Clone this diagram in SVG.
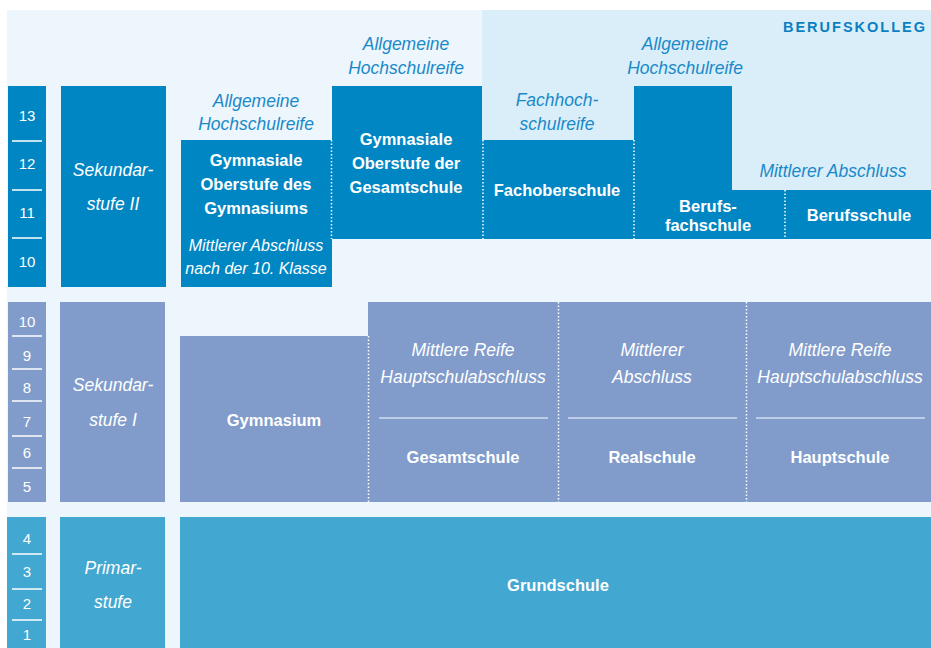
<svg xmlns="http://www.w3.org/2000/svg" width="931" height="648" viewBox="0 0 931 648">
<style>
.t{font-family:"Liberation Sans",Arial,sans-serif;text-anchor:middle}
.b{font-weight:bold;font-size:16.5px;fill:#fff}
.iw{font-style:italic;font-size:17.5px;fill:#fff}
.ib{font-style:italic;font-size:17.5px;fill:#1a89c8}
.n{font-size:15px;fill:#fff}
.s2{fill:#0086c3}
.s1{fill:#819ccb}
.p{fill:#42a8d1}
.dot{stroke:#fff;stroke-width:1.5;stroke-dasharray:1.5 2;fill:none}
.gl{stroke:#fff;stroke-width:1.5}
.sl{stroke:#d3def0;stroke-width:1.5}
</style>
<rect x="7" y="10" width="924" height="638" fill="#eef6fd"/>
<rect x="482" y="10" width="449" height="229" fill="#d9eef9"/>
<text class="t" x="927" y="32" style="text-anchor:end;font-weight:bold;font-size:14.5px;letter-spacing:2px;fill:#0a7fc1">BERUFSKOLLEG</text>

<g id="grades-sek2">
<rect class="s2" x="8" y="86" width="38" height="201"/>
<line class="gl" x1="12" y1="141" x2="42" y2="141"/>
<line class="gl" x1="12" y1="190" x2="42" y2="190"/>
<line class="gl" x1="12" y1="238" x2="42" y2="238"/>
<text class="t n" x="27" y="121">13</text>
<text class="t n" x="27" y="169">12</text>
<text class="t n" x="27" y="218">11</text>
<text class="t n" x="27" y="267">10</text>
</g>
<g id="sek2">
<rect class="s2" x="61" y="86" width="105" height="201"/>
<text class="t iw" x="113" y="176">Sekundar-</text>
<text class="t iw" x="113" y="210">stufe II</text>
</g>
<g id="gym-oberstufe">
<text class="t ib" x="256" y="107">Allgemeine</text>
<text class="t ib" x="256" y="130">Hochschulreife</text>
<rect class="s2" x="181" y="140" width="151" height="147"/>
<text class="t b" x="256" y="166">Gymnasiale</text>
<text class="t b" x="256" y="190">Oberstufe des</text>
<text class="t b" x="256" y="214">Gymnasiums</text>
<text class="t iw" x="256" y="251" style="font-size:16px">Mittlerer Abschluss</text>
<text class="t iw" x="256" y="274" style="font-size:16px">nach der 10. Klasse</text>
</g>
<g id="gesamt-oberstufe">
<text class="t ib" x="406" y="50">Allgemeine</text>
<text class="t ib" x="406" y="74">Hochschulreife</text>
<rect class="s2" x="332" y="86" width="150" height="153"/>
<text class="t b" x="406" y="145">Gymnasiale</text>
<text class="t b" x="406" y="169">Oberstufe der</text>
<text class="t b" x="406" y="193">Gesamtschule</text>
</g>
<g id="fachoberschule">
<text class="t ib" x="557" y="106">Fachhoch-</text>
<text class="t ib" x="557" y="130">schulreife</text>
<rect class="s2" x="482" y="140" width="152" height="99"/>
<text class="t b" x="557" y="196">Fachoberschule</text>
</g>
<g id="berufsfachschule">
<text class="t ib" x="685" y="50">Allgemeine</text>
<text class="t ib" x="685" y="74">Hochschulreife</text>
<path class="s2" d="M634 86H732V190H784V239H634Z"/>
<text class="t b" x="708" y="212">Berufs-</text>
<text class="t b" x="708" y="231">fachschule</text>
</g>
<g id="berufsschule">
<text class="t ib" x="833" y="177">Mittlerer Abschluss</text>
<rect class="s2" x="784" y="190" width="147" height="49"/>
<text class="t b" x="859" y="221">Berufsschule</text>
</g>

<g id="grades-sek1">
<rect class="s1" x="8" y="302" width="38" height="200"/>
<line class="gl" x1="12" y1="336" x2="42" y2="336"/>
<line class="gl" x1="12" y1="369" x2="42" y2="369"/>
<line class="gl" x1="12" y1="401" x2="42" y2="401"/>
<line class="gl" x1="12" y1="436" x2="42" y2="436"/>
<line class="gl" x1="12" y1="468" x2="42" y2="468"/>
<text class="t n" x="27" y="327">10</text>
<text class="t n" x="27" y="361">9</text>
<text class="t n" x="27" y="393">8</text>
<text class="t n" x="27" y="427">7</text>
<text class="t n" x="27" y="458">6</text>
<text class="t n" x="27" y="492">5</text>
</g>
<g id="sek1">
<rect class="s1" x="60" y="302" width="105" height="200"/>
<text class="t iw" x="113" y="391">Sekundar-</text>
<text class="t iw" x="113" y="426">stufe I</text>
</g>
<g id="gymnasium">
<rect class="s1" x="180" y="336" width="188" height="166"/>
<text class="t b" x="274" y="426">Gymnasium</text>
</g>
<g id="gesamtschule">
<rect class="s1" x="368" y="302" width="190" height="200"/>
<text class="t iw" x="463" y="356">Mittlere Reife</text>
<text class="t iw" x="463" y="383">Hauptschulabschluss</text>
<line class="sl" x1="379" y1="418" x2="548" y2="418"/>
<text class="t b" x="463" y="463">Gesamtschule</text>
</g>
<g id="realschule">
<rect class="s1" x="558" y="302" width="188" height="200"/>
<text class="t iw" x="652" y="356">Mittlerer</text>
<text class="t iw" x="652" y="383">Abschluss</text>
<line class="sl" x1="568" y1="418" x2="737" y2="418"/>
<text class="t b" x="652" y="463">Realschule</text>
</g>
<g id="hauptschule">
<rect class="s1" x="746" y="302" width="185" height="200"/>
<text class="t iw" x="840" y="356">Mittlere Reife</text>
<text class="t iw" x="840" y="383">Hauptschulabschluss</text>
<line class="sl" x1="756" y1="418" x2="925" y2="418"/>
<text class="t b" x="840" y="463">Hauptschule</text>
</g>

<g id="grades-primar">
<rect class="p" x="7" y="517" width="39" height="131"/>
<line class="gl" x1="12" y1="554" x2="42" y2="554"/>
<line class="gl" x1="12" y1="589" x2="42" y2="589"/>
<line class="gl" x1="12" y1="620" x2="42" y2="620"/>
<text class="t n" x="27" y="544">4</text>
<text class="t n" x="27" y="577">3</text>
<text class="t n" x="27" y="609">2</text>
<text class="t n" x="27" y="640">1</text>
</g>
<g id="primar">
<rect class="p" x="60" y="517" width="105" height="131"/>
<text class="t iw" x="113" y="574">Primar-</text>
<text class="t iw" x="113" y="608">stufe</text>
</g>
<g id="grundschule">
<rect class="p" x="180" y="517" width="751" height="131"/>
<text class="t b" x="558" y="591">Grundschule</text>
</g>

<g id="connectors">
<line class="dot" x1="331.5" y1="140" x2="331.5" y2="239"/>
<line class="dot" x1="483" y1="140" x2="483" y2="239"/>
<line class="dot" x1="634" y1="140" x2="634" y2="239"/>
<line class="dot" x1="785" y1="190" x2="785" y2="239"/>
<line class="dot" x1="368.5" y1="336" x2="368.5" y2="502"/>
<line class="dot" x1="558.5" y1="302" x2="558.5" y2="502"/>
<line class="dot" x1="746.5" y1="302" x2="746.5" y2="502"/>
</g>
</svg>
